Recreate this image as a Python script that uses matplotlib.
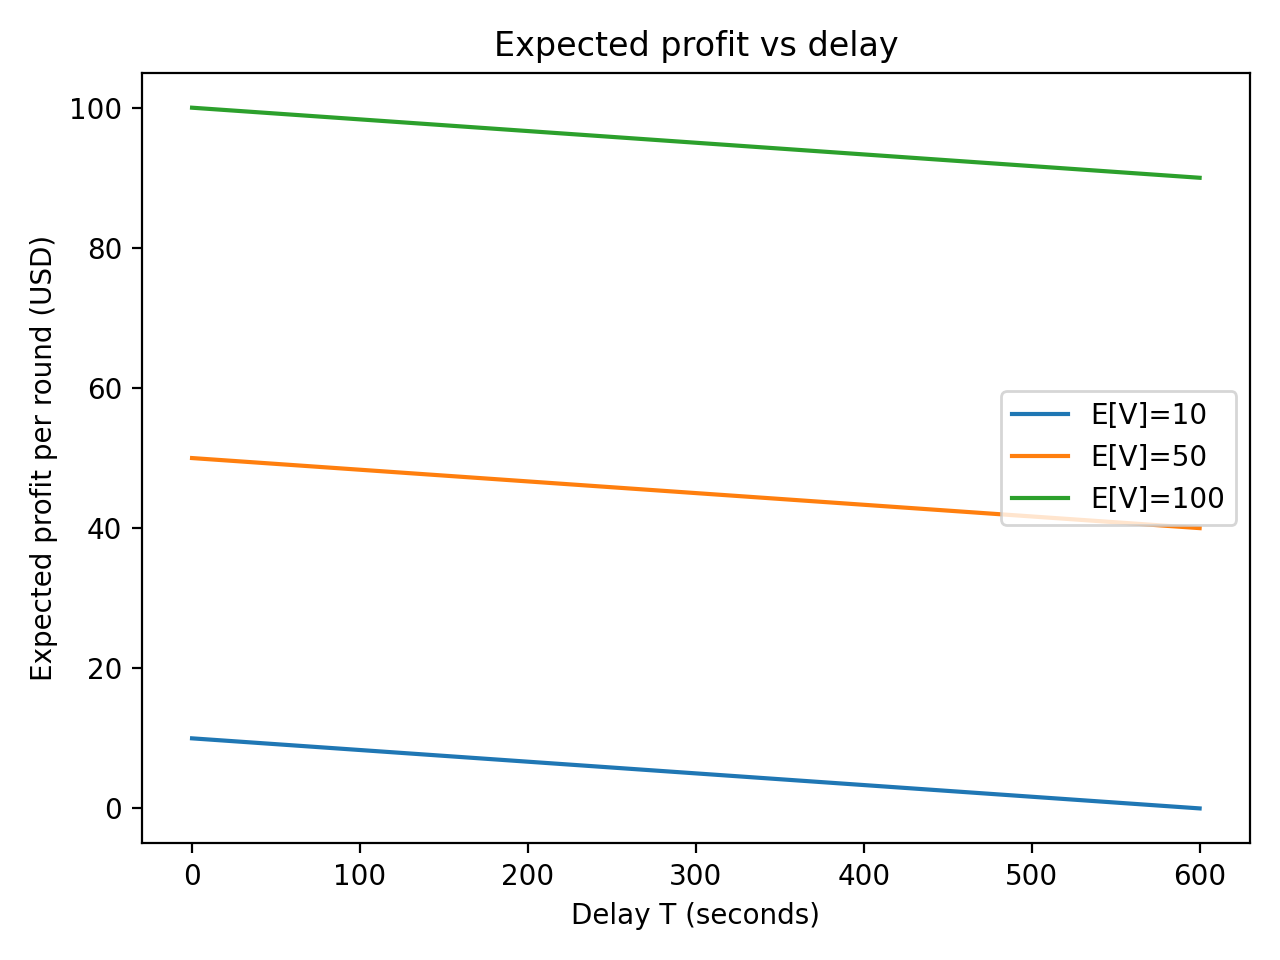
import matplotlib
matplotlib.use("Agg")
import matplotlib.pyplot as plt

# delay in seconds and expected profit per round for each E[V]
delays = [0, 600]
labels = ["E[V]=10", "E[V]=50", "E[V]=100"]
profit_ev10 = [10, 0]
profit_ev50 = [50, 40]
profit_ev100 = [100, 90]

fig, ax = plt.subplots(figsize=(6.4, 4.8), dpi=200)
for label, values in zip(labels, [profit_ev10, profit_ev50, profit_ev100]):
    ax.plot(delays, values, label=label)

ax.set_title("Expected profit vs delay")
ax.set_xlabel("Delay T (seconds)")
ax.set_ylabel("Expected profit per round (USD)")
ax.legend(loc="center right")

fig.tight_layout()
fig.savefig("out.png")
plt.close(fig)
